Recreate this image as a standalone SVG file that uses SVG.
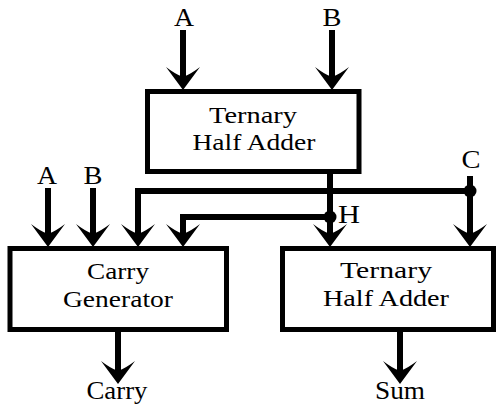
<svg xmlns="http://www.w3.org/2000/svg" xmlns:xlink="http://www.w3.org/1999/xlink" width="498" height="407" viewBox="0 0 498 407">
  <style>
    .box { fill: #ffffff; stroke: #000000; stroke-width: 5; }
    .wire { fill: none; stroke: #000000; stroke-width: 6; stroke-linejoin: miter; }
    .label { font-family: "Liberation Serif", "Times New Roman", serif; font-size: 25px; fill: #000000; text-anchor: middle; }
    .btext { font-family: "Liberation Serif", "Times New Roman", serif; font-size: 23px; fill: #000000; text-anchor: middle; }
  </style>
  <defs>
    <!-- downward chevron arrowhead, tip at origin -->
    <path id="ah" d="M0 0 L-17 -23 Q-8 -16 0 -13 Q8 -16 17 -23 Z" fill="#000000"/>
  </defs>
  <rect width="498" height="407" fill="#ffffff"/>

  <g id="connectors">
    <!-- inputs to the first half adder -->
    <line class="wire" x1="183" y1="30" x2="183" y2="80"/>
    <use xlink:href="#ah" x="183" y="90"/>
    <line class="wire" x1="332" y1="30" x2="332" y2="80"/>
    <use xlink:href="#ah" x="332" y="90"/>
    <!-- H : output of first half adder -->
    <line class="wire" x1="330" y1="172" x2="330" y2="236"/>
    <use xlink:href="#ah" x="330" y="247"/>
    <polyline class="wire" points="330,217 183,217 183,236"/>
    <use xlink:href="#ah" x="183" y="247"/>
    <circle cx="330" cy="217" r="6.5" fill="#000000"/>
    <!-- C : carry in -->
    <line class="wire" x1="470" y1="176" x2="470" y2="236"/>
    <use xlink:href="#ah" x="470" y="247"/>
    <polyline class="wire" points="470,191 138,191 138,236"/>
    <use xlink:href="#ah" x="138" y="247"/>
    <circle cx="470" cy="191" r="6.5" fill="#000000"/>
    <!-- A, B into the carry generator -->
    <line class="wire" x1="48" y1="188" x2="48" y2="236"/>
    <use xlink:href="#ah" x="48" y="247"/>
    <line class="wire" x1="93" y1="188" x2="93" y2="236"/>
    <use xlink:href="#ah" x="93" y="247"/>
    <!-- outputs -->
    <line class="wire" x1="118" y1="330" x2="118" y2="372"/>
    <use xlink:href="#ah" x="118" y="384"/>
    <line class="wire" x1="400" y1="330" x2="400" y2="372"/>
    <use xlink:href="#ah" x="400" y="384"/>
  </g>

  <g id="half-adder-1">
    <rect class="box" x="147.5" y="91.5" width="211.5" height="80"/>
    <text class="btext" x="253" y="123" textLength="88" lengthAdjust="spacingAndGlyphs">Ternary</text>
    <text class="btext" x="254" y="150" textLength="123" lengthAdjust="spacingAndGlyphs">Half Adder</text>
  </g>

  <g id="carry-generator">
    <rect class="box" x="10" y="248.5" width="216.5" height="81"/>
    <text class="btext" x="118" y="279" textLength="62" lengthAdjust="spacingAndGlyphs">Carry</text>
    <text class="btext" x="118" y="307" textLength="110" lengthAdjust="spacingAndGlyphs">Generator</text>
  </g>

  <g id="half-adder-2">
    <rect class="box" x="282.5" y="248.5" width="211" height="81"/>
    <text class="btext" x="386" y="278" textLength="92" lengthAdjust="spacingAndGlyphs">Ternary</text>
    <text class="btext" x="386" y="306" textLength="126" lengthAdjust="spacingAndGlyphs">Half Adder</text>
  </g>

  <g id="labels">
    <text class="label" x="184" y="26" textLength="20" lengthAdjust="spacingAndGlyphs">A</text>
    <text class="label" x="332" y="26" textLength="19" lengthAdjust="spacingAndGlyphs">B</text>
    <text class="label" x="47" y="184" textLength="20" lengthAdjust="spacingAndGlyphs">A</text>
    <text class="label" x="93" y="184" textLength="19" lengthAdjust="spacingAndGlyphs">B</text>
    <text class="label" x="471" y="168" textLength="19" lengthAdjust="spacingAndGlyphs">C</text>
    <text class="label" x="349" y="223" textLength="22" lengthAdjust="spacingAndGlyphs">H</text>
    <text class="label" x="117" y="399" textLength="61" lengthAdjust="spacingAndGlyphs">Carry</text>
    <text class="label" x="400" y="399" textLength="50" lengthAdjust="spacingAndGlyphs">Sum</text>
  </g>
</svg>
